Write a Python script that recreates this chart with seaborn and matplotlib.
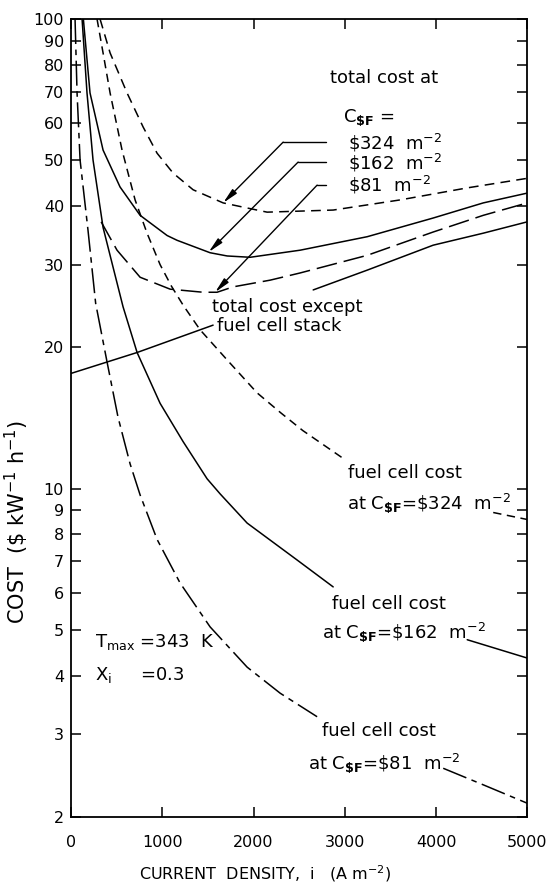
import pandas as pd
import seaborn as sns
import matplotlib.pyplot as plt

# values (current density i in A m-2, cost in $ kW-1 h-1)
i_total_324 = [318, 428, 614, 790, 943, 1118, 1338, 1667, 1930, 2149, 2873, 3607, 4342, 5000]
c_total_324 = [100, 84.7, 69.6, 58.9, 51.8, 47.0, 43.3, 40.6, 39.6, 38.8, 39.2, 41.2, 43.7, 45.8]

i_total_162 = [135, 208, 351, 537, 757, 1053, 1162, 1524, 1711, 1963, 2511, 3246, 3969, 4518, 5000]
c_total_162 = [100, 69.6, 52.6, 43.9, 38.2, 34.6, 33.8, 31.8, 31.3, 31.1, 32.2, 34.4, 37.7, 40.6, 42.6]

i_total_81 = [330, 504, 757, 1086, 1447, 1600, 1776, 2182, 2511, 3246, 3969, 4518, 5000]
c_total_81 = [37.0, 32.2, 28.2, 26.6, 26.2, 26.2, 26.9, 27.8, 28.8, 31.4, 35.2, 38.2, 40.6]

# fuel cell cost curves are broken where their labels sit (seg 0 / seg 1)
i_fuel_324 = [285, 351, 428, 559, 702, 833, 976, 1100, 1228, 1414, 1711, 2039, 2300, 2540, 2983, 4627, 5000]
c_fuel_324 = [100, 84.7, 69.6, 52.6, 41.2, 35.0, 30.0, 27.0, 24.6, 21.8, 18.8, 16.0, 14.5, 13.3, 11.6, 8.9, 8.6]
s_fuel_324 = [0] * 15 + [1] * 2

i_fuel_162 = [121, 175, 241, 351, 461, 570, 724, 976, 1228, 1491, 1634, 1930, 2478, 2873, 4342, 5000]
c_fuel_162 = [100, 69.6, 50.1, 36.0, 29.6, 24.4, 19.5, 15.2, 12.6, 10.5, 9.75, 8.45, 7.05, 6.18, 4.77, 4.36]
s_fuel_162 = [0] * 14 + [1] * 2

i_fuel_81 = [44, 66, 99, 186, 270, 395, 515, 647, 757, 943, 1195, 1524, 1930, 2292, 2697, 4079, 4500, 5000]
c_fuel_81 = [100, 69.6, 50.1, 35.5, 24.8, 18.6, 14.2, 11.3, 9.7, 7.8, 6.3, 5.08, 4.17, 3.67, 3.27, 2.54, 2.35, 2.14]
s_fuel_81 = [0] * 15 + [1] * 3

# total cost except fuel cell stack
i_other = [0, 724, 1557, 2654, 3246, 3969, 4518, 5000]
c_other = [17.6, 19.5, 22.3, 26.5, 29.2, 33.0, 35.0, 37.0]
s_other = [0, 0, 0, 1, 1, 1, 1, 1]

y_ticks = [2, 3, 4, 5, 6, 7, 8, 9, 10, 20, 30, 40, 50, 60, 70, 80, 90, 100]
x_ticks = [0, 1000, 2000, 3000, 4000, 5000]


def frame(name, i, c, seg=None):
    if seg is None:
        seg = [0] * len(i)
    return pd.DataFrame({'i': i, 'cost': c, 'curve': name,
                         'unit': [name + str(s) for s in seg]})


df = pd.concat([
    frame('total_324', i_total_324, c_total_324),
    frame('total_162', i_total_162, c_total_162),
    frame('total_81', i_total_81, c_total_81),
    frame('fuel_324', i_fuel_324, c_fuel_324, s_fuel_324),
    frame('fuel_162', i_fuel_162, c_fuel_162, s_fuel_162),
    frame('fuel_81', i_fuel_81, c_fuel_81, s_fuel_81),
    frame('other', i_other, c_other, s_other),
], ignore_index=True)

dash_map = {'total_324': (7, 4.5), 'fuel_324': (6, 4), 'total_162': '',
            'fuel_162': '', 'total_81': (15, 5), 'fuel_81': (18, 4, 4, 4),
            'other': ''}

sns.set_style('ticks')
plt.rcParams['font.family'] = ['DejaVu Sans']
plt.rcParams['mathtext.fontset'] = 'dejavusans'
plt.rcParams['mathtext.default'] = 'regular'
plt.rcParams['lines.scale_dashes'] = False
plt.rcParams['text.color'] = 'black'
plt.rcParams['axes.labelcolor'] = 'black'

fig = plt.figure(figsize=(5.55, 8.85), dpi=100)
ax = fig.add_axes([0.128, 0.0768, 0.822, 0.9017])

sns.lineplot(data=df, x='i', y='cost', style='curve', units='unit',
             estimator=None, dashes=dash_map, color='black', linewidth=1.1,
             legend=False, ax=ax)

ax.set_yscale('log')
ax.set_xlim(0, 5000)
ax.set_ylim(2, 100)
ax.set_yticks(y_ticks, [str(v) for v in y_ticks])
ax.yaxis.set_minor_locator(plt.NullLocator())
ax.set_xticks(x_ticks, [str(v) for v in x_ticks])
ax.tick_params(axis='both', direction='in', length=7, width=1.1,
               labelsize=11.5, top=True, right=True, colors='black')
ax.tick_params(axis='x', pad=13)
ax.tick_params(axis='y', pad=5)
for sp in ax.spines.values():
    sp.set_linewidth(1.3)
    sp.set_color('black')

ax.set_ylabel(r'COST  (\$ kW$^{-1}$ h$^{-1}$)', fontsize=15)
ax.yaxis.set_label_coords(-0.088, 0.37)
ax.set_xlabel(r'CURRENT  DENSITY,  i   (A m$^{-2}$)', fontsize=11.5)
ax.xaxis.set_label_coords(0.425, -0.058)

# labels
fs = 13
ax.text(2840, 74.9, 'total cost at', fontsize=fs, va='center')
ax.text(2982, 61.8, r'C$_{\mathbf{\$F}}$ =', fontsize=fs, va='center')
ax.text(3037, 54.5, r'\$324  m$^{-2}$', fontsize=fs, va='center')
ax.text(3037, 49.4, r'\$162  m$^{-2}$', fontsize=fs, va='center')
ax.text(3037, 44.3, r'\$81  m$^{-2}$', fontsize=fs, va='center')

# leader arrows: (end x, elbow x, level, tip x, tip cost)
leaders = [(2796, 2325, 54.7, 1667, 40.6),
           (2796, 2489, 49.6, 1508, 31.9),
           (2796, 2697, 44.3, 1579, 26.2)]
for x_end, x_elb, lvl, x_tip, c_tip in leaders:
    ax.plot([x_elb, x_end], [lvl, lvl], color='black', lw=1.0)
    ax.annotate('', xy=(x_tip, c_tip), xytext=(x_elb, lvl),
                arrowprops=dict(arrowstyle='-|>,head_length=0.9,head_width=0.18',
                                color='black', lw=1.0, shrinkA=0, shrinkB=0))

ax.text(1546, 24.4, 'total cost except', fontsize=fs, va='center')
ax.text(1601, 22.2, 'fuel cell stack', fontsize=fs, va='center')

ax.text(3037, 10.8, 'fuel cell cost', fontsize=fs, va='center')
ax.text(3026, 9.34, r'at C$_{\mathbf{\$F}}$=\$324  m$^{-2}$', fontsize=fs, va='center')
ax.text(2862, 5.67, 'fuel cell cost', fontsize=fs, va='center')
ax.text(2752, 4.95, r'at C$_{\mathbf{\$F}}$=\$162  m$^{-2}$', fontsize=fs, va='center')
ax.text(2752, 3.05, 'fuel cell cost', fontsize=fs, va='center')
ax.text(2599, 2.61, r'at C$_{\mathbf{\$F}}$=\$81  m$^{-2}$', fontsize=fs, va='center')

ax.text(263, 4.71, r'T$_{max}$ =343  K', fontsize=fs, va='center')
ax.text(263, 4.01, r'X$_{i}$     =0.3', fontsize=fs, va='center')

fig.savefig('out.png', dpi=100)
